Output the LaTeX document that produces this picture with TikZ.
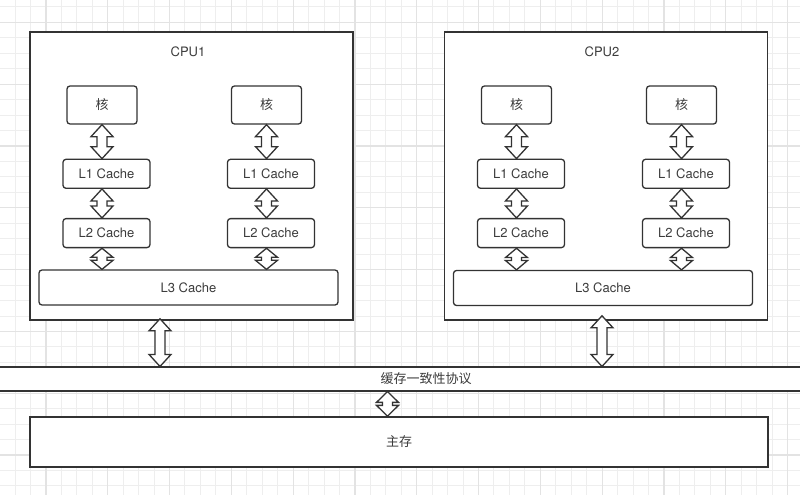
\documentclass[tikz,border=0pt]{standalone}
\usepackage{fontspec}
\setmainfont{TeX Gyre Heros}
\newfontfamily\cjk{Noto Sans CJK SC}
\usetikzlibrary{positioning,calc}

\definecolor{linegray}{HTML}{333333}
\definecolor{textgray}{HTML}{3C3C3C}
\definecolor{gridminor}{HTML}{EEEEEE}
\definecolor{gridmajor}{HTML}{E3E3E3}

\tikzset{
    gridline/.style={draw=gridminor, line width=1pt},
    gridmajorline/.style={draw=gridmajor, line width=1.2pt},
    cpubox/.style={draw=linegray, line width=1.6pt, fill=white, inner sep=0pt,
        minimum width=323pt, minimum height=288pt},
    unitbox/.style={draw=linegray, line width=1.3pt, fill=white, rounded corners=3pt,
        inner sep=0pt, text=textgray},
    corebox/.style={unitbox, minimum width=70pt, minimum height=38pt},
    cachebox/.style={unitbox, minimum width=87pt, minimum height=29pt},
    lthreebox/.style={unitbox, minimum width=299pt, minimum height=35pt},
    membox/.style={draw=linegray, line width=1.6pt, fill=white, inner sep=0pt, text=textgray},
    blockarrow/.style={draw=linegray, line width=1.3pt, fill=white, line join=miter},
}

% double block arrow, x taken from the first point, head shortened on short arrows
\newcommand{\dblarrow}[2]{%
    \draw[blockarrow] let \p1=#1, \p2=#2, \n1={min(12,(\y1-\y2-3pt)/2)} in
        (\x1,\y1) -- ++(11pt,-\n1*1pt) -- ++(-6pt,0pt) -- (\x1+5pt,\y2+\n1*1pt) -- ++(6pt,0pt)
        -- (\x1,\y2) -- ++(-11pt,\n1*1pt) -- ++(6pt,0pt) -- (\x1-5pt,\y1-\n1*1pt) -- ++(-6pt,0pt)
        -- cycle;}

\begin{document}
\begin{tikzpicture}[x=1pt, y=-1pt, font=\fontsize{13}{15}\selectfont]
    \clip (0,0) rectangle (800,495);
    \fill[white] (0,0) rectangle (800,495);

    % background grid
    \foreach \i in {0,...,52}
        \draw[gridline] ({-0.45+15.45*\i},0) -- ++(0,495);
    \foreach \j in {0,...,32}
        \draw[gridline] (0,{7+15.45*\j}) -- ++(800,0);
    \foreach \i in {0,...,13}
        \draw[gridmajorline] ({46+61.8*\i},0) -- ++(0,495);
    \foreach \j in {0,...,7}
        \draw[gridmajorline] (0,{22.45+61.8*\j}) -- ++(800,0);

    % CPU1
    \node[cpubox] (cpu1) at (191.5,176) {};
    \node[text=textgray] (cpu1label) at ([xshift=-3.5pt, yshift=-21pt]cpu1.north) {CPU1};
    \node[corebox] (core1a) at (102,105) {\cjk 核};
    \node[corebox] (core1b) at (266.5,105) {\cjk 核};
    \node[cachebox, below=34pt of core1a, xshift=4.5pt] (l1a) {L1 Cache};
    \node[cachebox, below=34pt of core1b, xshift=4.5pt] (l1b) {L1 Cache};
    \node[cachebox, below=29pt of l1a] (l2a) {L2 Cache};
    \node[cachebox, below=29pt of l1b] (l2b) {L2 Cache};
    \node[lthreebox] (l3a) at (188.5,287.5) {L3 Cache};

    % CPU2
    \node[cpubox] (cpu2) at (606,176) {};
    \node[text=textgray] (cpu2label) at ([xshift=-4pt, yshift=-21pt]cpu2.north) {CPU2};
    \node[corebox] (core2a) at (516.5,105) {\cjk 核};
    \node[corebox] (core2b) at (681.5,105) {\cjk 核};
    \node[cachebox, below=34pt of core2a, xshift=4.5pt] (l1c) {L1 Cache};
    \node[cachebox, below=34pt of core2b, xshift=4.5pt] (l1d) {L1 Cache};
    \node[cachebox, below=29pt of l1c] (l2c) {L2 Cache};
    \node[cachebox, below=29pt of l1d] (l2d) {L2 Cache};
    \node[lthreebox] (l3b) at (603,288) {L3 Cache};

    % bus and main memory
    \node[membox, minimum width=900pt, minimum height=23.5pt] (bus) at (426,379) {\cjk 缓存一致性协议};
    \node[membox, minimum width=738pt, minimum height=50pt] (mem) at (399,442) {\cjk 主存};

    % arrows
    \dblarrow{(core1a.south)}{(l1a.north)}
    \dblarrow{(l1a.south -| core1a)}{(l2a.north)}
    \dblarrow{(l2a.south -| core1a)}{(l3a.north)}
    \dblarrow{(core1b.south)}{(l1b.north)}
    \dblarrow{(l1b.south -| core1b)}{(l2b.north)}
    \dblarrow{(l2b.south -| core1b)}{(l3a.north)}
    \dblarrow{(core2a.south)}{(l1c.north)}
    \dblarrow{(l1c.south -| core2a)}{(l2c.north)}
    \dblarrow{(l2c.south -| core2a)}{(l3b.north)}
    \dblarrow{(core2b.south)}{(l1d.north)}
    \dblarrow{(l1d.south -| core2b)}{(l2d.north)}
    \dblarrow{(l2d.south -| core2b)}{(l3b.north)}
    \dblarrow{([xshift=-31.5pt, yshift=2pt]cpu1.south)}{(bus.north)}
    \dblarrow{([xshift=-4pt, yshift=5pt]cpu2.south)}{(bus.north)}
    \dblarrow{([xshift=-38.5pt]bus.south)}{(mem.north)}
\end{tikzpicture}
\end{document}
